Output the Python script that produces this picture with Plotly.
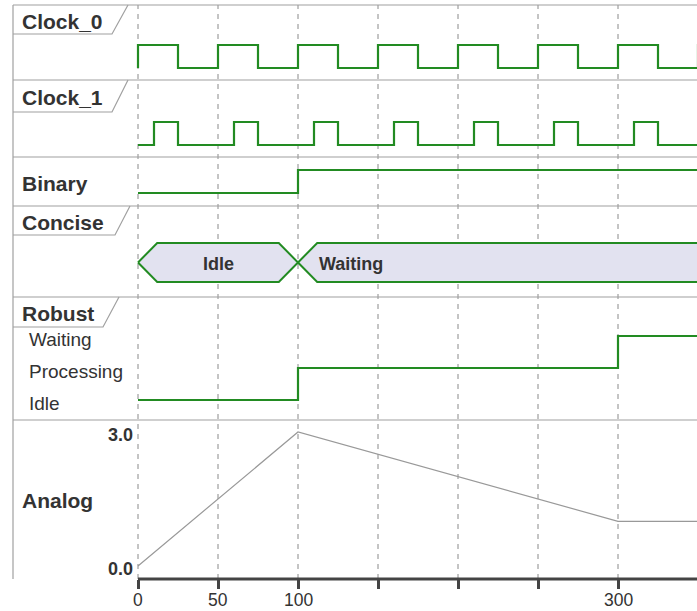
import plotly.graph_objects as go

W, H = 697, 611

# ---- data ----
tick_times = [0, 50, 100, 150, 200, 250, 300, 350]
tick_text = ["0", "50", "100", "", "", "", "300", ""]

clock_0_t = [0, 25, 50, 75, 100, 125, 150, 175, 200, 225, 250, 275, 300, 325, 350]
clock_0_v = [1, 0, 1, 0, 1, 0, 1, 0, 1, 0, 1, 0, 1, 0, 1]
clock_1_t = [0, 10, 25, 60, 75, 110, 125, 160, 175, 210, 225, 260, 275, 310, 325, 360]
clock_1_v = [0, 1, 0, 1, 0, 1, 0, 1, 0, 1, 0, 1, 0, 1, 0, 1]

binary_t = [0, 100]
binary_v = [0, 1]

concise_t = [0, 100]
concise_s = ["Idle", "Waiting"]

robust_levels = ["Idle", "Processing", "Waiting"]
robust_t = [0, 100, 300]
robust_s = ["Idle", "Processing", "Waiting"]

analog_t = [0, 100, 300]
analog_v = [0, 3, 1]
analog_ticks = [0, 3]
analog_tick_text = ["0.0", "3.0"]

row_names = ["Clock_0", "Clock_1", "Binary", "Concise", "Robust", "Analog"]

# ---- layout helpers (pixel positions) ----
X0_PX = 138          # where time 0 sits
PX_PER_T = 1.6
T_END = 380          # signals run past the right edge
GREEN = "#228B22"
TXT = "#333333"
FRAME = "#a0a0a0"
FONT = "Liberation Sans"


def px(x):
    return x / W


def py(y):
    return 1 - y / H


def yaxis_for(top, bottom, v_lo, p_lo, v_hi, p_hi):
    k = (p_lo - p_hi) / (v_hi - v_lo)
    return dict(domain=[py(bottom), py(top)],
                range=[v_lo - (bottom - p_lo) / k, v_lo + (p_lo - top) / k],
                visible=False, fixedrange=True, anchor="x")


fig = go.Figure()


def step(t, v, axis, lead=None):
    xs = list(t) + [T_END]
    ys = list(v) + [v[-1]]
    if lead is not None:
        xs = [t[0]] + xs
        ys = [lead] + ys
    fig.add_trace(go.Scatter(x=xs, y=ys, mode="lines", line_shape="hv",
                             line=dict(color=GREEN, width=2.2),
                             xaxis="x", yaxis=axis, hoverinfo="skip"))


step(clock_0_t, clock_0_v, "y", lead=0)
step(clock_1_t, clock_1_v, "y2", lead=0)
step(binary_t, binary_v, "y3")

# concise hexagons
slant = 12
for i, s in enumerate(concise_s):
    t0 = concise_t[i]
    t1 = concise_t[i + 1] if i + 1 < len(concise_t) else T_END
    fig.add_trace(go.Scatter(
        x=[t0, t0 + slant, t1 - slant, t1, t1 - slant, t0 + slant, t0],
        y=[0, 1, 1, 0, -1, -1, 0], mode="lines", fill="toself",
        fillcolor="#E2E2F0", line=dict(color=GREEN, width=2),
        xaxis="x", yaxis="y4", hoverinfo="skip"))
    last = i + 1 == len(concise_t)
    fig.add_annotation(x=t0 + slant if last else (t0 + t1) / 2, y=0,
                       xref="x", yref="y4", text=s, showarrow=False,
                       xanchor="left" if last else "center", yshift=-1.5,
                       font=dict(family=FONT, size=18, color=TXT, weight="bold"))

robust_idx = [robust_levels.index(s) for s in robust_s]
step(robust_t, robust_idx, "y5")
for i, s in enumerate(robust_levels):
    fig.add_annotation(x=px(27), y=i, xref="paper", yref="y5", text=s,
                       showarrow=False, xanchor="left", yshift=-3,
                       font=dict(family=FONT, size=19, color=TXT))

fig.add_trace(go.Scatter(x=analog_t + [T_END], y=analog_v + [analog_v[-1]],
                         mode="lines", line=dict(color="#999999", width=1.2),
                         xaxis="x", yaxis="y6", hoverinfo="skip"))
for v, s in zip(analog_ticks, analog_tick_text):
    fig.add_annotation(x=px(135), y=v, xref="paper", yref="y6", text=s,
                       showarrow=False, xanchor="right", yshift=-2.5,
                       font=dict(family=FONT, size=18, color=TXT, weight="bold"))

# time tick labels (only at event times)
for t, s in zip(tick_times, tick_text):
    if s:
        fig.add_annotation(x=t, y=py(600), xref="x", yref="paper", text=s,
                           showarrow=False, xanchor="center", yanchor="middle",
                           font=dict(family=FONT, size=17.5, color=TXT))

# ---- frame: separators, tabs, labels ----
shapes = []
for y in [5, 80, 157, 206, 297, 420]:
    shapes.append(dict(type="line", xref="paper", yref="paper", x0=px(13), x1=1,
                       y0=py(y), y1=py(y), line=dict(color=FRAME, width=1.2)))
shapes.append(dict(type="line", xref="paper", yref="paper", x0=px(13), x1=px(13),
                   y0=py(5), y1=py(579), line=dict(color=FRAME, width=1.2)))

tabs = [(5, 34, 112, 128), (80, 112, 112, 128), (206, 235, 115, 130), (297, 327, 103, 119)]
for top, bot, xb, xt in tabs:
    shapes.append(dict(type="path", xref="paper", yref="paper",
                       path=f"M {px(13)},{py(bot)} L {px(xb)},{py(bot)} L {px(xt)},{py(top)}",
                       line=dict(color=FRAME, width=1.2)))

for t in tick_times:
    if t <= (W - X0_PX) / PX_PER_T:
        shapes.append(dict(type="line", xref="x", yref="paper", x0=t, x1=t,
                           y0=py(579), y1=py(5), layer="below",
                           line=dict(color="#8a8a8a", width=1, dash="5px,5px")))

shapes.append(dict(type="line", xref="x", yref="paper", x0=0, x1=T_END,
                   y0=py(579), y1=py(579), line=dict(color="#444444", width=3)))

label_y = [21, 97, 184, 222, 313, 501]
for name, cy in zip(row_names, label_y):
    fig.add_annotation(x=px(20), y=py(cy), xref="paper", yref="paper", text=name,
                       showarrow=False, xanchor="left", yanchor="middle",
                       font=dict(family=FONT, size=21, color=TXT, weight="bold"))

fig.update_layout(
    width=W, height=H, autosize=False, showlegend=False,
    margin=dict(l=0, r=0, t=0, b=0, autoexpand=False),
    paper_bgcolor="white", plot_bgcolor="white",
    shapes=shapes,
    xaxis=dict(domain=[0, 1], range=[-X0_PX / PX_PER_T, (W - X0_PX) / PX_PER_T],
               anchor="free", position=py(579), showline=False, showgrid=False,
               zeroline=False, fixedrange=True, ticks="outside", ticklen=9,
               tickwidth=3, tickcolor="#444444", tickvals=tick_times,
               showticklabels=False),
    yaxis=yaxis_for(5, 80, 0, 68, 1, 45),
    yaxis2=yaxis_for(80, 157, 0, 145, 1, 122),
    yaxis3=yaxis_for(157, 206, 0, 193, 1, 170),
    yaxis4=yaxis_for(206, 297, -1, 282, 1, 243),
    yaxis5=yaxis_for(297, 420, 0, 400, 2, 336),
    yaxis6=yaxis_for(420, 579, 0, 566, 3, 432),
)

fig.write_html("out.html", config={"displayModeBar": False},
               post_script="document.body.style.margin='0';document.body.style.overflow='hidden';")
